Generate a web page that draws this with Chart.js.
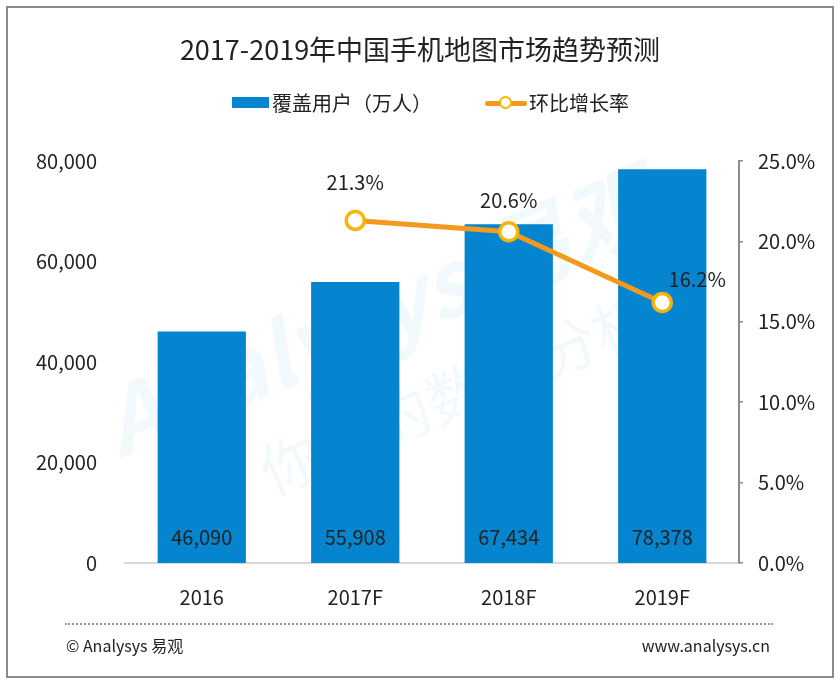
<!DOCTYPE html>
<html>
<head>
<meta charset="utf-8">
<script src="https://cdn.jsdelivr.net/npm/chart.js@4.4.1/dist/chart.umd.min.js"></script>
<style>
  body { margin:0; background:#fff; font-family:"Noto Sans CJK SC","Noto Sans",sans-serif; color:#222; }
  #wrap { position:relative; width:840px; height:686px; overflow:hidden; }
  #frame { position:absolute; left:6px; top:6px; width:824px; height:668px; border:2px solid #8a8a8a; }
  #chart { position:absolute; left:0; top:0; }
  .title { position:absolute; left:0; width:840px; top:31px; text-align:center; font-size:27px; line-height:36px; }
  .legend { position:absolute; top:87px; left:232px; height:26px; font-size:20px; line-height:26px; white-space:nowrap; }
  .legend span { display:inline-block; vertical-align:middle; }
  .sw-bar { width:37px; height:11px; background:#0585cf; margin-right:3px; }
  .sw-line { position:relative; width:42px; height:14px; margin-left:53px; margin-right:2px; }
  .sw-line i { position:absolute; left:0; right:0; top:5px; height:5px; background:#f39a1e; border-radius:3px; }
  .sw-line b { position:absolute; left:14px; top:0; width:9px; height:9px; border:2.5px solid #f6b507; border-radius:50%; background:#fff; }
  .dots { position:absolute; left:65px; top:623px; width:708px; border-top:2px dotted #9a9a9a; }
  .foot { position:absolute; top:634px; font-size:16px; line-height:22px; color:#222; }
</style>
</head>
<body>
<div id="wrap">
  <canvas id="chart" width="840" height="686"></canvas>
  <div id="frame"></div>
  <div class="title">2017-2019年中国手机地图市场趋势预测</div>
  <div class="legend">
    <span class="sw-bar"></span><span>覆盖用户（万人）</span><span class="sw-line"><i></i><b></b></span><span>环比增长率</span>
  </div>
  <div class="dots"></div>
  <div class="foot" style="left:66px">© Analysys 易观</div>
  <div class="foot" style="right:70px">www.analysys.cn</div>
</div>
<script>
// values
const years = ['2016', '2017F', '2018F', '2019F'];
const users = [46090, 55908, 67434, 78378];      // 覆盖用户（万人）
const growth = [null, 21.3, 20.6, 16.2];         // 环比增长率 %

const FONT = '"Noto Sans CJK SC","Noto Sans",sans-serif';

// faint watermark behind the bars
const watermark = {
  id: 'watermark',
  beforeDatasetsDraw(chart) {
    const ctx = chart.ctx;
    ctx.save();
    ctx.translate(390, 340);
    ctx.rotate(-0.4);
    ctx.fillStyle = 'rgba(5,133,207,0.05)';
    ctx.font = 'bold italic 90px ' + FONT;
    ctx.textAlign = 'center';
    ctx.textBaseline = 'middle';
    ctx.fillText('Analysys 易观', 0, -30);
    ctx.font = '60px ' + FONT;
    ctx.fillText('你要的数据分析', 40, 75);
    ctx.restore();
  }
};

// value labels on bars and points
const valueLabels = {
  id: 'valueLabels',
  afterDatasetsDraw(chart) {
    const ctx = chart.ctx;
    ctx.save();
    ctx.font = '20px ' + FONT;
    ctx.fillStyle = '#222';
    ctx.textAlign = 'center';
    ctx.textBaseline = 'middle';
    const base = chart.scales.y.getPixelForValue(0);
    chart.getDatasetMeta(0).data.forEach((el, i) => {
      ctx.fillText(users[i].toLocaleString('en-US'), el.x, base - 26);
    });
    const offs = [[0, -38], [0, -38], [0, -31], [35, -23]];
    chart.getDatasetMeta(1).data.forEach((el, i) => {
      if (growth[i] == null) return;
      ctx.fillText(growth[i].toFixed(1) + '%', el.x + offs[i][0], el.y + offs[i][1]);
    });
    ctx.restore();
  }
};

new Chart(document.getElementById('chart'), {
  data: {
    labels: years,
    datasets: [
      {
        type: 'bar', label: '覆盖用户（万人）', data: users, yAxisID: 'y', order: 2,
        backgroundColor: '#0585cf', barPercentage: 0.575, categoryPercentage: 1
      },
      {
        type: 'line', label: '环比增长率', data: growth, yAxisID: 'y1', order: 1,
        borderColor: '#f39a1e', borderWidth: 5, tension: 0,
        pointRadius: 9, pointBorderWidth: 3.5, pointBorderColor: '#f6b507', pointBackgroundColor: '#fff'
      }
    ]
  },
  options: {
    responsive: false,
    animation: false,
    layout: { padding: { top: 161, left: 0, right: 0, bottom: 0 } },
    plugins: { legend: { display: false }, tooltip: { enabled: false } },
    scales: {
      x: {
        grid: { display: false, drawTicks: false },
        border: { display: true, color: '#d9d9d9', width: 2 },
        ticks: { padding: 22, color: '#222', font: { size: 20, family: FONT } },
        afterFit: s => { s.height = 123; }
      },
      y: {
        position: 'left', min: 0, max: 80000,
        grid: { display: false, drawTicks: false },
        border: { display: false },
        ticks: { stepSize: 20000, padding: 28, color: '#222', font: { size: 20, family: FONT },
                 callback: v => v.toLocaleString('en-US') },
        afterFit: s => { s.width = 125; }
      },
      y1: {
        position: 'right', min: 0, max: 25,
        grid: { drawOnChartArea: false, drawTicks: true, tickLength: 4, color: '#8c8c8c', lineWidth: 1.5 },
        border: { display: true, color: '#8c8c8c', width: 2 },
        ticks: { stepSize: 5, padding: 15, color: '#222', font: { size: 20, family: FONT },
                 callback: v => v.toFixed(1) + '%' },
        afterFit: s => { s.width = 101; }
      }
    }
  },
  plugins: [watermark, valueLabels]
});
</script>
</body>
</html>
